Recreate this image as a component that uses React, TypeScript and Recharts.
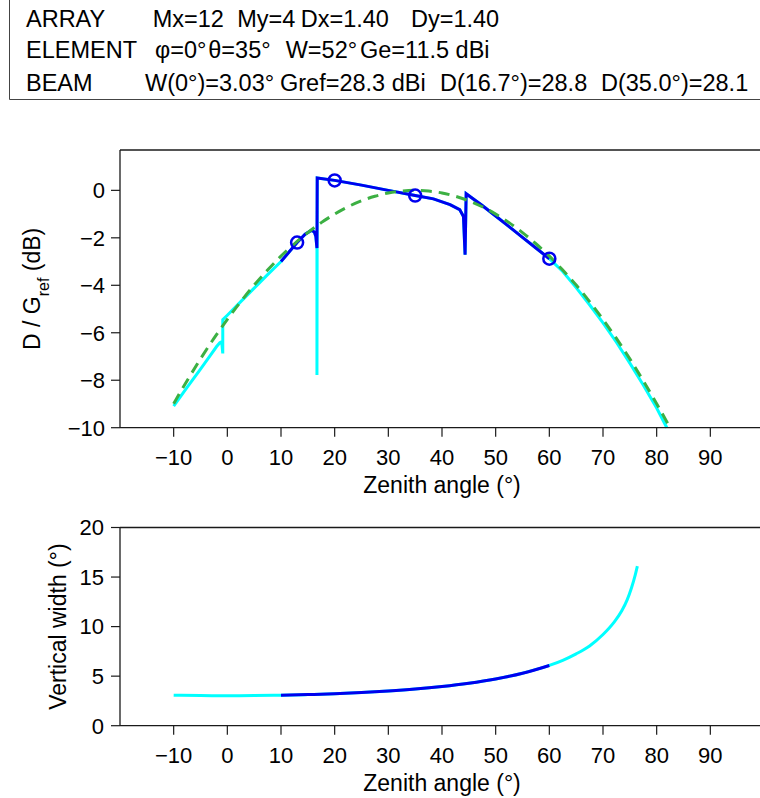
import { LineChart, Line, XAxis, YAxis } from "recharts";

const FONT = '"Liberation Sans", Arial, Helvetica, sans-serif';
const BLUE = "#0000ee";
const CYAN = "#00ffff";
const GREEN = "#3cb043";
const AXIS = "#1a1a1a";

// shared angle ticks
const ANGLE_TICKS = [-10, 0, 10, 20, 30, 40, 50, 60, 70, 80, 90];
const GAIN_TICKS = [-10, -8, -6, -4, -2, 0];
const WIDTH_TICKS = [0, 5, 10, 15, 20];

// element pattern, dashed green (dB rel. Gref)
const elemAngle = [
  -10, -7.5, -5, -2.5, 0, 2.5, 5, 7.5, 10, 12.5, 15, 17.5, 20, 22.5, 25, 27.5,
  30, 32.5, 35, 37.5, 40, 42.5, 45, 47.5, 50, 52.5, 55, 57.5, 60, 62.5, 65,
  67.5, 70, 72.5, 75, 77.5, 80, 82.5,
];
const elemGain = [
  -8.99, -8.02, -7.1, -6.24, -5.44, -4.69, -3.99, -3.36, -2.77, -2.25, -1.78,
  -1.36, -1.0, -0.69, -0.44, -0.25, -0.11, -0.03, 0, -0.03, -0.11, -0.25,
  -0.44, -0.69, -1.0, -1.36, -1.78, -2.25, -2.77, -3.36, -3.99, -4.69, -5.44,
  -6.24, -7.1, -8.02, -8.99, -10.0,
];

// directivity over the full scan range (cyan)
const fullAngle = [
  -10, -7.5, -5, -3, -2, -1.4, -1.05, -0.85, -0.85, 0, 2.5, 5, 7.5, 10, 11.5,
  13, 14.5, 15.7, 16.2, 16.5, 16.7, 16.7, 16.75, 20, 25, 30, 35, 38.4, 41.5,
  43.3, 44.0, 44.3, 44.5, 47.5, 50, 52.5, 55, 57.5, 60, 62.5, 65, 67.5, 70,
  72.5, 75, 77.5, 80, 81.9,
];
const fullGain = [
  -9.09, -8.3, -7.53, -6.9, -6.58, -6.42, -6.38, -6.87, -5.45, -5.26, -4.69,
  -4.12, -3.55, -3.0, -2.6, -2.2, -1.85, -1.68, -1.75, -1.95, -2.43, -7.78,
  0.52, 0.42, 0.22, 0.0, -0.22, -0.36, -0.6, -0.81, -1.1, -2.71, -0.14,
  -0.64, -1.08, -1.53, -1.98, -2.43, -2.88, -3.42, -4.1, -4.82, -5.58, -6.4,
  -7.28, -8.2, -9.17, -10.0,
];

// directivity inside the coverage range (blue)
const coverAngle = [
  10, 11.5, 13, 14.5, 15.7, 16.2, 16.5, 16.7, 16.75, 20, 25, 30, 35, 38.4,
  41.5, 43.3, 44.0, 44.3, 44.5, 47.5, 50, 52.5, 55, 57.5, 60,
];
const coverGain = [
  -3.0, -2.6, -2.2, -1.85, -1.68, -1.75, -1.95, -2.43, 0.52, 0.42, 0.22, 0.0,
  -0.22, -0.36, -0.6, -0.81, -1.1, -2.71, -0.14, -0.64, -1.08, -1.53, -1.98,
  -2.43, -2.88,
];

// circle markers
const markerAngle = [13, 20, 35, 60];
const markerGain = [-2.2, 0.42, -0.22, -2.88];

// vertical beam width (deg)
const widthAngle = [
  -10, -5, 0, 5, 10, 15, 20, 25, 30, 35, 40, 45, 50, 55, 60, 62.5, 65, 67.5,
  70, 72, 73.5, 74.5, 75.3, 76, 76.4,
];
const widthValue = [
  3.08, 3.04, 3.03, 3.04, 3.08, 3.14, 3.22, 3.34, 3.5, 3.7, 3.96, 4.29, 4.72,
  5.29, 6.08, 6.6, 7.25, 8.05, 9.2, 10.4, 11.6, 12.7, 13.9, 15.2, 16.1,
];

const rows = (xs: number[], ys: number[]) =>
  xs.map((x, i) => ({ x, y: ys[i] }));

const elemData = rows(elemAngle, elemGain);
const fullData = rows(fullAngle, fullGain);
const coverData = rows(coverAngle, coverGain);
const markerData = rows(markerAngle, markerGain);
const widthData = rows(widthAngle, widthValue);
const widthCover = widthData.filter((d) => d.x >= 10 && d.x <= 60);

const fmt = (v: number) => String(v).replace("-", "\u2212");
const tickStyle = { fontSize: 22, fill: "#000", fontFamily: FONT };
const NoTick = () => <g />;

const ZenithLabel = (props: any) => {
  const vb = props.viewBox || { x: 120, y: 0, width: 644 };
  return (
    <text
      x={vb.x + vb.width / 2}
      y={vb.y + 65}
      textAnchor="middle"
      fontSize={23}
      fontFamily={FONT}
      fill="#000"
    >
      Zenith angle (°)
    </text>
  );
};

const GainLabel = (props: any) => {
  const vb = props.viewBox || { x: 0, y: 150, height: 278 };
  const cx = vb.x + 40;
  const cy = vb.y + vb.height / 2;
  return (
    <text
      transform={`translate(${cx},${cy}) rotate(-90)`}
      textAnchor="middle"
      fontSize={23}
      fontFamily={FONT}
      fill="#000"
    >
      D / G
      <tspan fontSize={16} dy={9}>
        ref
      </tspan>
      <tspan dy={-9}> (dB)</tspan>
    </text>
  );
};

const WidthLabel = (props: any) => {
  const vb = props.viewBox || { x: 0, y: 527, height: 198 };
  const cx = vb.x + 66;
  const cy = vb.y + vb.height / 2;
  return (
    <text
      transform={`translate(${cx},${cy}) rotate(-90)`}
      textAnchor="middle"
      fontSize={23}
      fontFamily={FONT}
      fill="#000"
    >
      Vertical width (°)
    </text>
  );
};

const HEADER = [
  { y: 26.7, items: [[26, "ARRAY"], [152.7, "Mx=12"], [237.3, "My=4"], [300.7, "Dx=1.40"], [411, "Dy=1.40"]] },
  { y: 58.3, items: [[26, "ELEMENT"], [155, "\u03c6=0°"], [208.3, "\u03b8=35°"], [285.7, "W=52°"], [360, "Ge=11.5 dBi"]] },
  { y: 90.7, items: [[26, "BEAM"], [145, "W(0°)=3.03°"], [280, "Gref=28.3 dBi"], [440, "D(16.7°)=28.8"], [601, "D(35.0°)=28.1"]] },
];

const Header = () => (
  <svg width={760} height={100} style={{ position: "absolute", left: 0, top: 0 }}>
    <path d="M9.5 0 V99.5 H760" stroke="#444" strokeWidth={1} fill="none" />
    {HEADER.map((row) =>
      row.items.map(([x, s]) => (
        <text key={row.y + "-" + x} x={x as number} y={row.y} fontSize={23.5} fontFamily={FONT} fill="#000">
          {s}
        </text>
      ))
    )}
  </svg>
);

const axisCommon = {
  stroke: AXIS,
  tickSize: 9,
  tickLine: { stroke: AXIS, strokeWidth: 1.2 },
  axisLine: { stroke: AXIS, strokeWidth: 1.3 },
};

const GainChart = () => (
  <LineChart width={800} height={500} margin={{ top: 140, right: 36, bottom: 0, left: 0 }}>
    <XAxis
      xAxisId="b"
      type="number"
      dataKey="x"
      domain={[-20, 100]}
      ticks={ANGLE_TICKS}
      tickFormatter={fmt}
      tick={tickStyle}
      tickMargin={13}
      height={72.3}
      label={ZenithLabel}
      {...axisCommon}
    />
    <XAxis
      xAxisId="t"
      orientation="top"
      type="number"
      dataKey="x"
      domain={[-20, 100]}
      ticks={ANGLE_TICKS}
      tick={NoTick}
      height={10}
      {...axisCommon}
    />
    <YAxis
      type="number"
      domain={[-10, 1.7]}
      ticks={GAIN_TICKS}
      tickFormatter={fmt}
      tick={tickStyle}
      tickMargin={6}
      width={120}
      label={GainLabel}
      {...axisCommon}
    />
    <Line xAxisId="b" data={fullData} dataKey="y" type="linear" stroke={CYAN} strokeWidth={3} dot={false} activeDot={false} isAnimationActive={false} />
    <Line xAxisId="b" data={coverData} dataKey="y" type="linear" stroke={BLUE} strokeWidth={3} dot={false} activeDot={false} isAnimationActive={false} />
    <Line xAxisId="b" data={elemData} dataKey="y" type="monotone" stroke={GREEN} strokeWidth={3} strokeDasharray="11 7" dot={false} activeDot={false} isAnimationActive={false} />
    <Line
      xAxisId="b"
      data={markerData}
      dataKey="y"
      stroke="none"
      strokeWidth={0}
      dot={{ r: 6, stroke: BLUE, strokeWidth: 2.5, fill: "none" }}
      activeDot={false}
      isAnimationActive={false}
    />
  </LineChart>
);

const WidthChart = () => (
  <LineChart width={800} height={298} margin={{ top: 17.5, right: 36, bottom: 0, left: 0 }}>
    <XAxis
      xAxisId="b"
      type="number"
      dataKey="x"
      domain={[-20, 100]}
      ticks={ANGLE_TICKS}
      tickFormatter={fmt}
      tick={tickStyle}
      tickMargin={13}
      height={72.3}
      label={ZenithLabel}
      {...axisCommon}
    />
    <XAxis
      xAxisId="t"
      orientation="top"
      type="number"
      dataKey="x"
      domain={[-20, 100]}
      ticks={ANGLE_TICKS}
      tick={NoTick}
      height={10}
      {...axisCommon}
    />
    <YAxis
      type="number"
      domain={[0, 20]}
      ticks={WIDTH_TICKS}
      tick={tickStyle}
      tickMargin={7}
      width={120}
      label={WidthLabel}
      {...axisCommon}
    />
    <Line xAxisId="b" data={widthData} dataKey="y" type="monotone" stroke={CYAN} strokeWidth={3} dot={false} activeDot={false} isAnimationActive={false} />
    <Line xAxisId="b" data={widthCover} dataKey="y" type="monotone" stroke={BLUE} strokeWidth={3} dot={false} activeDot={false} isAnimationActive={false} />
  </LineChart>
);

export default function App() {
  return (
    <div
      style={{
        position: "absolute",
        left: 0,
        top: 0,
        width: 760,
        height: 798,
        overflow: "hidden",
        background: "#fff",
        fontFamily: FONT,
      }}
    >
      <Header />
      <div style={{ position: "absolute", left: 0, top: 0 }}>
        <GainChart />
      </div>
      <div style={{ position: "absolute", left: 0, top: 500 }}>
        <WidthChart />
      </div>
    </div>
  );
}
